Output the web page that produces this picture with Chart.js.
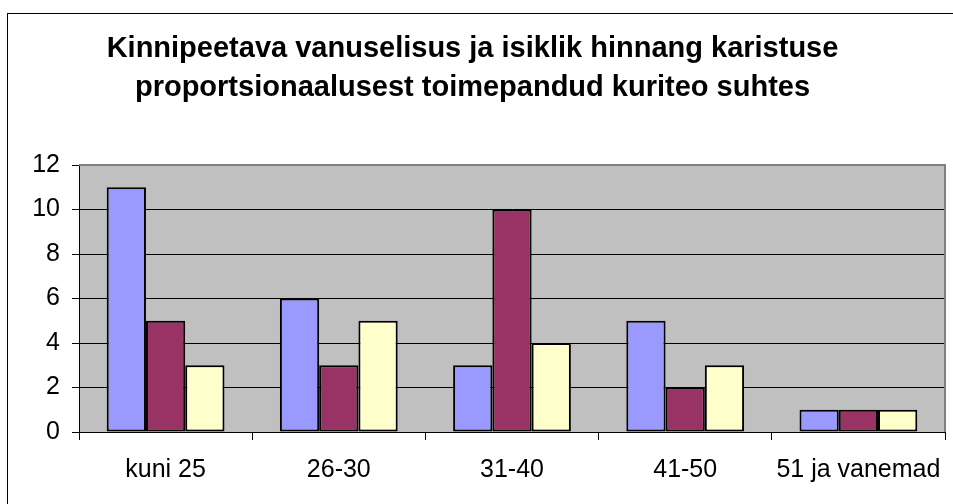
<!DOCTYPE html>
<html>
<head>
<meta charset="utf-8">
<script src="https://cdn.jsdelivr.net/npm/chart.js@4.4.1/dist/chart.umd.min.js"></script>
<style>
  html, body { margin: 0; padding: 0; background: #fff; }
  #wrap { width: 953px; height: 504px; position: relative; }
</style>
</head>
<body>
<div id="wrap"><canvas id="c"></canvas></div>
<script>
const categories = ['kuni 25', '26-30', '31-40', '41-50', '51 ja vanemad'];
const series1 = [11, 6, 3, 5, 1];
const series2 = [5, 3, 10, 2, 1];
const series3 = [3, 5, 4, 3, 1];
const yTicks = [0, 2, 4, 6, 8, 10, 12];
const titleLines = [
  'Kinnipeetava vanuselisus ja isiklik hinnang karistuse',
  'proportsionaalusest toimepandud kuriteo suhtes',
];

const FONT = '"Liberation Sans", Arial, sans-serif';

// gray plot background, gray frame on top/right, black frame round the whole picture
const excelLook = {
  id: 'excelLook',
  beforeDraw(chart) {
    const { ctx, chartArea: a } = chart;
    ctx.save();
    ctx.fillStyle = '#C0C0C0';
    ctx.fillRect(a.left, a.top, a.right - a.left, a.bottom - a.top);
    ctx.restore();
  },
  beforeDatasetsDraw(chart) {
    const { ctx, chartArea: a } = chart;
    ctx.save();
    ctx.strokeStyle = '#808080';
    ctx.lineWidth = 2;
    ctx.beginPath();
    ctx.moveTo(a.left, a.top);
    ctx.lineTo(a.right, a.top);
    ctx.lineTo(a.right, a.bottom);
    ctx.stroke();
    ctx.restore();
  },
  afterDraw(chart) {
    const { ctx } = chart;
    ctx.save();
    ctx.strokeStyle = '#000';
    ctx.lineWidth = 1;
    ctx.strokeRect(7.5, 13.5, 1000, 1000);
    ctx.restore();
  },
};

const ds = (label, data, color) => ({
  label, data, backgroundColor: color, borderColor: '#000', borderWidth: 2,
  borderSkipped: false, barPercentage: 1, categoryPercentage: 0.68,
});

new Chart(document.getElementById('c'), {
  type: 'bar',
  data: {
    labels: categories,
    datasets: [
      ds('1', series1, '#9999FF'),
      ds('2', series2, '#993366'),
      ds('3', series3, '#FFFFCC'),
    ],
  },
  options: {
    responsive: true,
    maintainAspectRatio: false,
    animation: false,
    layout: { padding: { left: 0, right: 8, top: 0, bottom: 0 } },
    plugins: {
      legend: { display: false },
      tooltip: { enabled: false },
      title: {
        display: true,
        text: titleLines,
        color: '#000',
        font: { family: FONT, size: 29, weight: 'bold', lineHeight: 1.345 },
        padding: { top: 29, bottom: 58 },
      },
    },
    scales: {
      x: {
        grid: { offset: true, drawOnChartArea: false, color: '#000', tickLength: 8 },
        border: { color: '#000', width: 1 },
        ticks: { color: '#000', font: { family: FONT, size: 25 }, padding: 15, maxRotation: 0, autoSkip: false },
        afterFit(s) { s.height = 72; s.paddingLeft = 0; s.paddingRight = 0; },
      },
      y: {
        min: 0, max: 12,
        afterBuildTicks(s) { s.ticks = yTicks.map((v) => ({ value: v })); },
        grid: { color: '#000', tickLength: 7, lineWidth: 1 },
        border: { color: '#000', width: 1 },
        ticks: { color: '#000', font: { family: FONT, size: 25 }, padding: 12 },
        afterFit(s) { s.width = 79; },
      },
    },
  },
  plugins: [excelLook],
});
</script>
</body>
</html>
